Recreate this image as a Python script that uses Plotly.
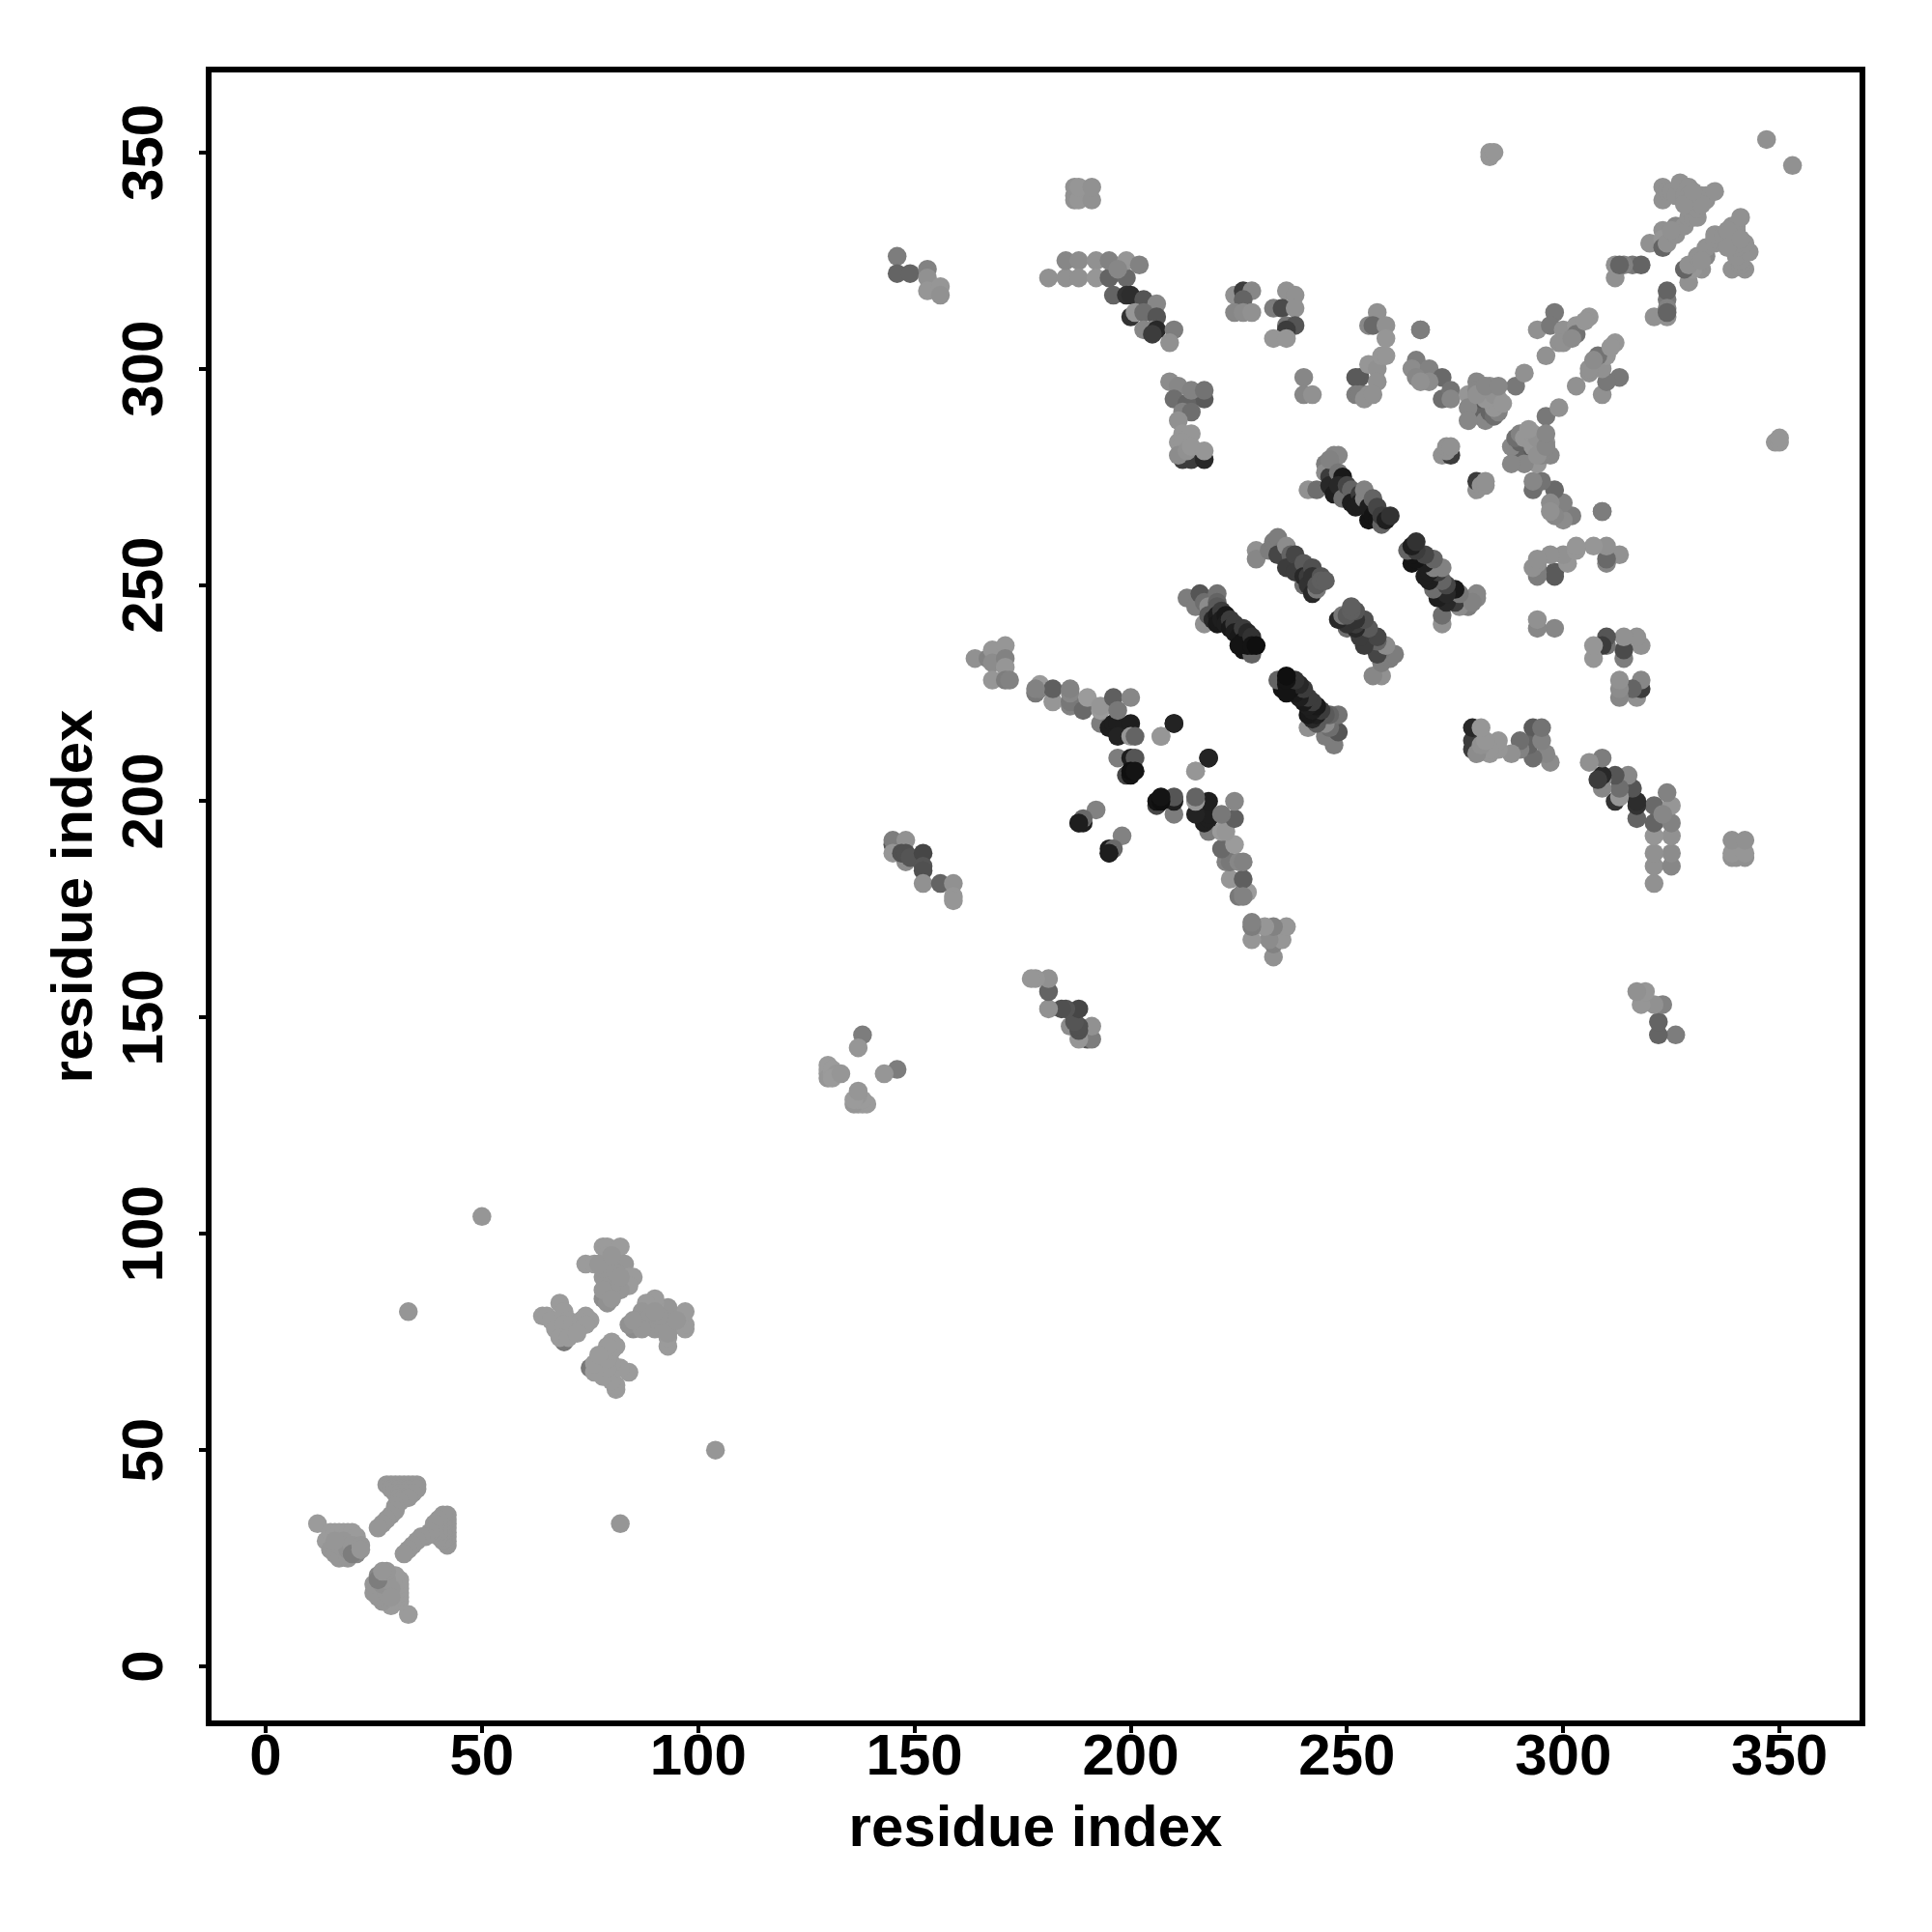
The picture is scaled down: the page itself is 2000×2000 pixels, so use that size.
import plotly.graph_objects as go

# Contacts: (residue i, residue j, grey level). The map is symmetric.
helix_a = [(12,33,155),(14,29,155),(15,31,155),(16,31,155),(17,31,155),(18,31,155),(19,31,155),(20,31,155),(21,30,155),
           (15,27,150),(16,26,150),(17,25,150),(19,25,150),(17,28,150),(18,29,150),(19,27,145),(20,28,150),(21,26,135),
           (20,26,125),(22,28,150),(22,27,150),(16,29,150),
           (33,40,130),(28,42,150),(29,42,150),(30,42,150),(31,42,150),(32,42,150),(33,42,150),(34,42,150),(35,42,150),
           (29,41,150),(30,41,150),(31,41,150),(32,41,150),(33,41,150),(34,41,150),(35,41,150),(30,40,150),(31,40,150),
           (32,40,150),(34,40,150),(31,39,150),(32,39,150),(33,39,150),(31,38,150),(30,37,150),(30,36,150),(29,35,150),
           (28,34,150),(27,33,150),(26,32,150)]
helix_b = [(69,75,120),(64,81,155),(65,81,155),(66,80,155),(67,78,155),(68,84,155),(69,82,155),(70,80,155),(71,78,150),
           (69,79,155),(68,76,155),(70,76,155),(71,79,155),(73,80,155),(74,81,155),(75,80,155),(74,79,155),(72,77,155),
           (78,97,155),(79,97,155),(82,97,155),(74,93,155),(76,93,155),(80,93,150),(83,93,150),(84,90,155),(85,90,155),
           (84,88,155),(82,87,150),(80,86,150),(78,85,140),(79,84,145),(80,88,150),(78,90,150),(78,92,150),(79,95,155),
           (78,87,150),(81,91,150),(80,85,150),(77,93,150),(82,90,150),(80,95,150)]
far_singles = [(33,82,150),(50,104,150),(347,353,145),(283,349,150),(283,350,150),(284,350,150)]
hairpin_c = [(138,146,125),(137,143,150),(130,137,155),(130,138,155),(130,139,155),(130,136,150),(131,137,155),(131,138,155),
             (132,137,150),(131,136,155),(133,137,150)]
sheet_d = [(145,190,85),(145,191,125),(145,188,150),(148,191,145),(148,186,140),(147,188,80),(148,188,80),(149,187,85),(152,188,70),
           (152,185,85),(152,184,80),(152,181,145),(156,181,100),(159,181,145),(159,178,150),(159,177,150)]
sheet_e = [(164,233,145),(167,233,130),(168,233,130),(168,235,150),(168,232,140),(171,236,150),(171,233,130),(171,231,150),
           (168,228,150),(171,228,125),(172,228,130)]
arm_f = [(178,225,120),(179,226,130),(179,227,155),(182,223,150),(182,226,95),(186,222,130),(186,223,120),(186,225,135),
         (189,221,105),(190,224,155),(193,218,125),(193,221,155),(193,222,150),(196,224,95),(200,224,135),(195,217,30),(196,218,30),
         (197,218,30),(200,218,30),(197,215,35),(200,215,150),(201,215,100),(197,221,120),(207,215,155),(210,218,35),
         (197,210,125),(200,210,30),(201,210,85),(199,206,70),(200,206,20),(200,207,15),(201,207,20),(215,207,150),(218,210,35),
         (192,198,130),(188,195,80),(189,195,30),(189,196,105),(195,188,30),
         (178,226,130),(186,226,130)]
strand_1 = [(213,247,125),(215,245,125),(216,248,85),(217,241,145),(217,246,110),(218,245,140),(218,243,90),(219,242,40),(220,248,115),(220,246,100),(220,245,90),
            (220,243,30),(220,241,25),(221,244,60),(221,242,30),(222,243,25),(222,241,30),(223,242,60),(223,240,25),(224,241,60),(224,239,30),(225,238,25),
            (226,240,60),(226,237,20),(227,239,40),(226,235,20),(228,234,100),(227,236,20),(225,236,20),(228,238,50),(228,236,20),(229,236,15)]
strand_2 = [(229,258,145),(229,256,135),(232,258,125),(233,260,125),(234,261,125),(235,258,120),(234,257,70),(236,259,140),
            (237,257,100),(237,255,100),(236,254,60),(238,257,70),(239,254,70),(238,253,60),(240,250,110),(240,255,90),(240,252,40),
            (241,252,60),(241,250,50),(242,254,80),(242,252,50),(242,248,40),(243,249,120),(243,250,90),(244,252,85),(244,251,95),(245,251,95)]
strand_3 = [(241,272,145),(243,272,110),(245,278,125),(245,276,140),(246,275,60),(246,273,40),(247,271,30),(247,280,135),(248,280,135),(246,279,130),
            (248,276,120),(249,275,25),(248,273,40),(249,270,110),(250,273,70),(251,272,100),(251,269,30),(252,268,30),(253,271,60),(253,269,30),(254,270,130),
            (254,272,130),(255,265,20),(255,268,30),(256,270,100),(256,266,20),(257,265,20),(258,264,100),(257,268,70),(258,266,60),(259,265,30),(260,266,50)]
top_arm = [(146,326,125),(146,322,100),(149,322,100),(153,323,130),(153,321,145),(153,318,150),(156,319,150),(156,317,145),
           (187,339,145),(187,340,145),(187,342,145),(188,339,150),(188,342,150),(191,339,145),(191,342,145),
           (181,321,145),(185,321,145),(185,325,135),(188,325,140),(188,321,145),(192,325,145),(192,321,150),(195,321,100),(195,325,130),
           (199,321,105),(199,325,150),(197,323,135),(202,324,130),(196,317,100),(199,317,50),(200,317,45),(203,316,85),(206,315,135),
           (200,312,50),(201,313,150),(203,313,110),(206,312,85),(203,309,135),(205,309,135),(206,309,40),(205,308,60),(210,309,125),(209,306,145)]
mid_a = [(209,297,140),(211,296,135),(210,293,110),(214,293,90),(217,293,90),(213,292,100),(214,295,130),(217,295,115),(212,290,130),
         (214,290,110),(211,288,145),(212,285,150),(214,285,150),(211,283,150),(212,283,150),(212,279,60),(214,279,60),(217,279,40),
         (211,280,140),(213,281,145),(214,282,150),(217,281,150)]
mid_b = [(224,317,145),(226,318,60),(228,318,135),(226,316,100),(224,313,135),(226,313,140),(228,313,145),(233,314,125),(236,318,145),
         (238,317,145),(235,314,75),(238,314,145),(236,310,115),(238,310,85),(236,309,60),(233,307,150),(236,307,150),(240,298,135),
         (240,294,135),(242,294,145),(254,294,125),(257,313,145),(255,310,135),(256,310,105),(259,310,145),(259,307,150),
         (253,298,90),(252,298,90),(252,294,125),(253,294,125),(255,294,145),(255,301,150),(257,300,145),(257,297,145),(258,303,150),(259,303,150),
         (267,309,125)]
mid_c = [(266,302,125),(265,300,140),(269,300,130),(266,298,135),(272,298,105),(269,297,140),(267,297,145),(272,293,110),(274,295,115),
         (274,293,135),(272,280,145),(274,280,60),(273,281,145),(273,282,145),(274,282,145),(279,293,70),(281,289,70),(279,290,70),(282,291,80),
         (280,291,100),(278,294,150),(282,288,135),(280,297,135),(283,296,145),(281,293,90),(283,290,100),(284,289,110),(285,290,130),(284,291,150),
         (282,293,150),(285,293,150),(284,294,145),(286,292,150),
         (278,291,135),(280,295,135),
         (289,296,120),(291,299,145),(254,293,145),(296,303,145),(294,309,145),(298,313,120),(297,310,120),(300,309,145),(303,310,150),
         (303,308,115),(306,312,150),(299,306,145),(300,306,145),(302,307,140),(305,311,150)]
mid_d = [(278,288,135),(280,294,145),(282,296,135),(285,296,135)]
near_diag = [(312,324,145),(312,321,145),(316,324,120),(318,324,100),(314,324,130),(320,329,145),(323,332,145),(323,330,150),(323,328,100),
             (324,329,145),(326,331,145),(326,333,135),(328,333,145),(329,335,145),(325,332,145),(330,335,145),(331,335,145),(331,337,145),
             (323,342,145),(323,339,145),(324,341,145),(325,341,145),(326,340,145),(327,343,145),
             (328,340,145),(329,342,145),(329,340,145),(330,339,145),(331,339,145),(332,340,145),(333,339,145),(333,340,145),(335,341,145),(332,338,145),(328,338,145),(330,341,145),
             (313,324,100)]
cross_sheet = [(267,309,125),(256,294,145)]

clusters = [helix_a, helix_b, far_singles, hairpin_c, sheet_d, sheet_e, arm_f, strand_1, strand_2, strand_3,
            top_arm, mid_a, mid_b, mid_c, mid_d, near_diag, cross_sheet]
tick_values = [0, 50, 100, 150, 200, 250, 300, 350]
axis_range = [-12.5, 368.5]
axis_title = "residue index"

xs, ys, greys = [], [], []
for cluster in clusters:
    for i, j, g in cluster:
        for a, b in ((i, j), (j, i)):
            xs.append(a)
            ys.append(b)
            greys.append(f"rgb({g},{g},{g})")

fig = go.Figure(go.Scatter(x=xs, y=ys, mode="markers", hoverinfo="skip",
                           marker=dict(size=19.5, color=greys, line=dict(width=0))))

title_font = dict(family="Liberation Sans", size=60, color="black", weight="bold")
tick_font = dict(family="Liberation Sans", size=60, color="black", weight="bold")
axis = dict(range=axis_range, tickvals=tick_values, ticks="outside", ticklen=7, tickwidth=4, tickcolor="black",
            showline=True, mirror=True, linecolor="black", linewidth=6, showgrid=False, zeroline=False,
            tickfont=tick_font, automargin=False)
fig.update_xaxes(**axis, title=dict(text=axis_title, font=title_font, standoff=22), ticklabelstandoff=-29)
fig.update_yaxes(**axis, title=dict(text=axis_title, font=title_font, standoff=1), tickangle=-90, ticklabelstandoff=14,
                 ticklabelshift=9)
fig.update_layout(width=2000, height=2000, paper_bgcolor="white", plot_bgcolor="white", showlegend=False,
                  margin=dict(l=211, r=83, t=67, b=227, autoexpand=False))
fig.write_html("out.html")
